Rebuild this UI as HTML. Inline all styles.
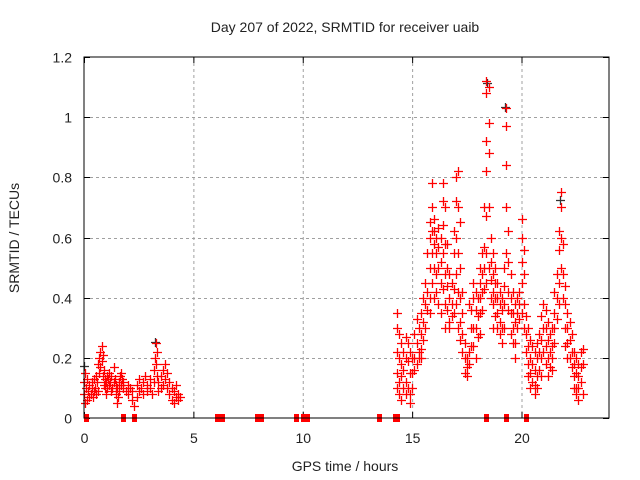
<!DOCTYPE html>
<html><head><meta charset="utf-8"><style>
html,body{margin:0;padding:0;background:#fff;}
svg{display:block;font-family:"Liberation Sans",sans-serif;}
</style></head><body>
<svg id="chart" width="640" height="480" viewBox="0 0 640 480" xmlns="http://www.w3.org/2000/svg">
<rect width="640" height="480" fill="#fff"/>
<text x="345" y="32" font-size="14" text-anchor="middle" fill="#222">Day 207 of 2022, SRMTID for receiver uaib</text>
<text transform="translate(19,238) rotate(-90)" font-size="14" text-anchor="middle" fill="#222">SRMTID / TECUs</text>
<text x="345" y="471" font-size="14" text-anchor="middle" fill="#222">GPS time / hours</text>
<g id="grid"></g>
<g id="ticks"></g>
<g id="marks"></g>
<rect x="84" y="57" width="525" height="361" fill="none" stroke="#000" stroke-width="1"/>
</svg>
<script>
const xTicks=[0,5,10,15,20];
const yTicks=[0,0.2,0.4,0.6,0.8,1,1.2];
const yTickLabels=["0","0.2","0.4","0.6","0.8","1","1.2"];
const zeroTimes=[0.1,1.8,2.3,6.1,6.3,7.9,8.1,9.7,10.0,10.2,13.5,14.2,14.3,18.4,19.3,20.2];
const times=[0.02,0.06,0.1,0.15,0.2,0.25,0.3,0.35,0.4,0.45,0.5,0.55,0.6,0.65,0.7,0.75,0.8,0.85,0.9,0.95,1.0,1.05,1.1,1.15,1.2,1.25,1.3,1.35,1.4,1.45,1.5,1.55,1.6,1.65,1.7,1.75,1.8,1.9,2.0,2.1,2.2,2.3,2.4,2.5,2.6,2.7,2.8,2.9,3.0,3.1,3.2,3.25,3.3,3.35,3.4,3.5,3.6,3.7,3.8,3.9,4.0,4.1,4.2,4.3,4.4,
14.3,14.4,14.5,14.6,14.7,14.8,14.9,15.0,15.1,15.2,15.3,15.4,15.5,15.6,15.7,15.8,15.9,16.0,16.1,16.2,16.3,16.4,16.5,16.6,16.7,16.8,16.9,17.0,17.1,17.2,17.3,17.4,17.5,17.6,17.7,17.8,17.9,18.0,18.1,18.2,18.3,18.4,18.5,18.6,18.7,18.8,18.9,19.0,19.1,19.2,19.3,19.4,19.5,19.6,19.7,19.8,19.9,20.0,20.1,20.2,20.3,20.4,20.5,20.6,20.7,20.8,20.9,21.0,21.1,21.2,21.3,21.4,21.5,21.6,21.7,21.8,21.9,22.0,22.1,22.2,22.3,22.4,22.5,22.6,22.7,22.8];
const values=[[0.08,0.12],[0.15,0.05],[0.1],[0.06,0.13],[0.09],[0.11,0.07],[0.08],[0.1,0.12],[0.07],[0.09,0.13],[0.1],[0.14,0.08],[0.12],[0.18,0.09],[0.2,0.15],[0.22,0.17],[0.24,0.19],[0.21,0.14],[0.16,0.11],[0.13,0.1],[0.12,0.08],[0.14,0.1],[0.13],[0.11,0.15],[0.12],[0.14,0.09],[0.1],[0.17,0.12],[0.13],[0.11,0.08],[0.05,0.1],[0.07],[0.12,0.09],[0.14],[0.11,0.15],[0.13],[0.1,0.12],[0.09],[0.11,0.08],[0.1],[0.06,0.09],[0.04],[0.07,0.11],[0.13,0.09],[0.1],[0.12,0.08],[0.14],[0.09,0.11],[0.1,0.13],[0.08],[0.12,0.16],[0.2],[0.25,0.18],[0.22,0.14],[0.12,0.09],[0.1,0.14],[0.16,0.11],[0.18,0.13],[0.15,0.1],[0.12,0.08],[0.06,0.1],[0.09,0.05],[0.07,0.11],[0.08,0.06],[0.07],
[0.35,0.3,0.22,0.15,0.1],[0.28,0.2,0.12,0.08],[0.25,0.18,0.14,0.06],[0.22,0.16,0.1],[0.27,0.2,0.12,0.08],[0.25,0.19,0.1],[0.22,0.15,0.08,0.05],[0.2,0.15,0.1],[0.28,0.2,0.16],[0.33,0.25,0.18],[0.3,0.22,0.2],[0.35,0.28,0.23,0.2],[0.4,0.32,0.26],[0.45,0.38,0.3],[0.55,0.42,0.36],[0.65,0.6,0.5,0.4,0.35],[0.78,0.7,0.62,0.55,0.45],[0.66,0.62,0.58,0.5,0.4],[0.6,0.55,0.48,0.42],[0.63,0.57,0.5,0.38],[0.6,0.52,0.45,0.35],[0.78,0.72,0.64,0.55,0.43],[0.7,0.58,0.48,0.38,0.3],[0.58,0.5,0.44,0.36],[0.48,0.4,0.32,0.3],[0.45,0.38,0.34],[0.62,0.55,0.43,0.35],[0.8,0.72,0.6,0.48,0.38],[0.82,0.7,0.55,0.42,0.3],[0.65,0.5,0.4,0.32,0.26],[0.42,0.35,0.28,0.22],[0.25,0.2,0.15],[0.2,0.17,0.14],[0.38,0.22,0.18],[0.36,0.3,0.24],[0.45,0.4,0.3,0.24],[0.42,0.36,0.3,0.2],[0.4,0.34,0.27],[0.5,0.45,0.4,0.35,0.28],[0.55,0.48,0.42,0.36],[0.7,0.57,0.5,0.43],[1.12,1.08,0.92,0.82,0.67,0.55,0.45],[1.1,0.98,0.88,0.7,0.5],[0.6,0.52,0.46,0.4],[0.55,0.48,0.42,0.38,0.3],[0.5,0.45,0.4,0.34],[0.45,0.4,0.35,0.3],[0.42,0.38,0.32,0.28],[0.4,0.36,0.3,0.25],[0.5,0.44,0.38,0.3],[1.03,0.97,0.84,0.7,0.55],[0.62,0.52,0.42,0.36],[0.48,0.4,0.35,0.28],[0.42,0.35,0.3,0.25],[0.38,0.32,0.25,0.2],[0.4,0.35,0.3],[0.42,0.38,0.33],[0.66,0.6,0.52,0.45,0.35],[0.56,0.48,0.38,0.3],[0.34,0.28,0.22],[0.3,0.24,0.18,0.14],[0.26,0.2,0.15,0.1],[0.24,0.18,0.12],[0.22,0.16,0.11,0.08],[0.25,0.2,0.14,0.1],[0.28,0.22,0.16],[0.34,0.26,0.2,0.14],[0.38,0.3,0.22],[0.36,0.3,0.24,0.18],[0.32,0.26,0.2,0.14],[0.28,0.22,0.17],[0.3,0.24,0.2,0.16],[0.42,0.35,0.3,0.25],[0.48,0.4,0.33],[0.62,0.56,0.45,0.38],[0.75,0.7,0.6,0.5],[0.58,0.48,0.4],[0.44,0.38,0.3,0.24],[0.35,0.3,0.25,0.2],[0.32,0.26,0.2],[0.28,0.22,0.17],[0.22,0.18,0.14,0.1],[0.2,0.15,0.1,0.08],[0.18,0.14,0.1,0.06],[0.22,0.17,0.12],[0.23,0.18,0.08]];
const blackTimes=[0.05,3.3,18.45,19.3,21.8];
const blackValues=[0.17,0.25,1.11,1.03,0.72];

const X0=84,X1=609,Y0=418,Y1=57;
const xs=t=>X0+(t/24)*(X1-X0);
const ys=v=>Y0-(v/1.2)*(Y0-Y1);
const NS="http://www.w3.org/2000/svg";
const grid=document.getElementById('grid'),ticks=document.getElementById('ticks'),marks=document.getElementById('marks');
function line(p,x1,y1,x2,y2,st,dash){const l=document.createElementNS(NS,'line');l.setAttribute('x1',x1);l.setAttribute('y1',y1);l.setAttribute('x2',x2);l.setAttribute('y2',y2);l.setAttribute('stroke',st);if(dash)l.setAttribute('stroke-dasharray',dash);p.appendChild(l);return l;}
xTicks.forEach(t=>{const x=xs(t)+0.5;
 if(t>0){const g=line(grid,x,Y1,x,Y0,'#a0a0a0','3,3');
 
 }
 line(grid,x,Y0,x,Y0-6,'#000');line(grid,x,Y1,x,Y1+6,'#000');
 const tx=document.createElementNS(NS,'text');tx.setAttribute('x',x);tx.setAttribute('y',Y0+25);tx.setAttribute('font-size','14');tx.setAttribute('text-anchor','middle');tx.setAttribute('fill','#222');tx.textContent=String(t);
 
 
 ticks.appendChild(tx);});
yTicks.forEach((v,i)=>{const y=Math.round(ys(v))+0.5;
 if(v>0&&v<1.2){const g=line(grid,X0,y,X1,y,'#a0a0a0','3,3');
 
 }
 line(grid,X0,y,X0+6,y,'#000');line(grid,X1,y,X1-6,y,'#000');
 const tx=document.createElementNS(NS,'text');tx.setAttribute('x',X0-12);tx.setAttribute('y',y+5);tx.setAttribute('font-size','14');tx.setAttribute('text-anchor','end');tx.setAttribute('fill','#222');tx.textContent=yTickLabels[i];
 
 
 ticks.appendChild(tx);});
function plus(x,y,c){const p=document.createElementNS(NS,'path');
 const cx=Math.round(x)+0.5,cy=Math.round(y)+0.5;
 p.setAttribute('d',`M${cx-4.5} ${cy}H${cx+4.5}M${cx} ${cy-4.5}V${cy+4.5}`);p.setAttribute('stroke',c);p.setAttribute('stroke-width','1.3');
 
 
 marks.appendChild(p);}
blackTimes.forEach((t,i)=>plus(xs(t)-1,ys(blackValues[i])-1,'#333'));
times.forEach((t,i)=>values[i].forEach(v=>plus(xs(t),ys(v),'#ff0000')));
zeroTimes.forEach(t=>{const r=document.createElementNS(NS,'rect');
 r.setAttribute('x',Math.round(xs(t))-2);r.setAttribute('y',Y0-4);r.setAttribute('width',5);r.setAttribute('height',8);r.setAttribute('fill','#ff0000');
 
 
 marks.appendChild(r);});
</script>
</body></html>
